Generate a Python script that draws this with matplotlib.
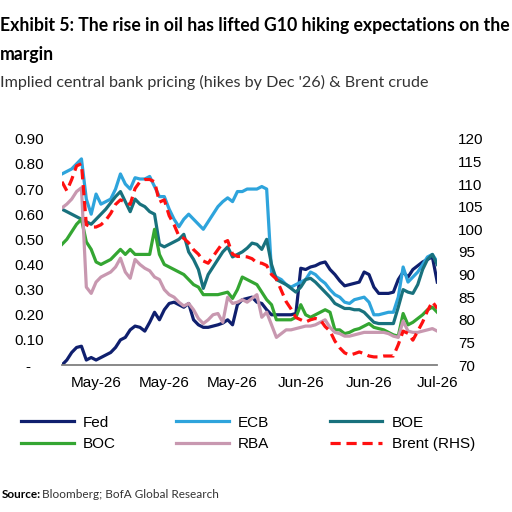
import pandas as pd
import matplotlib.pyplot as plt
import matplotlib.dates as mdates
from matplotlib.ticker import FuncFormatter

# daily dates, 24 Apr to 10 Jul
dates = pd.date_range("2026-04-24", "2026-07-10", freq="D")

fed = [0.0, 0.02, 0.05, 0.07, 0.075, 0.02, 0.03, 0.02, 0.03, 0.04,
       0.05, 0.07, 0.10, 0.11, 0.14, 0.155, 0.15, 0.135, 0.17, 0.21,
       0.18, 0.22, 0.245, 0.25, 0.24, 0.23, 0.245, 0.18, 0.16, 0.15,
       0.15, 0.155, 0.16, 0.167, 0.18, 0.16, 0.24, 0.26, 0.265, 0.27,
       0.25, 0.245, 0.22, 0.20, 0.20, 0.20, 0.20, 0.20, 0.205, 0.385,
       0.38, 0.39, 0.395, 0.405, 0.41, 0.38, 0.36, 0.335, 0.315, 0.32,
       0.325, 0.33, 0.37, 0.36, 0.31, 0.285, 0.285, 0.285, 0.29, 0.34,
       0.37, 0.35, 0.38, 0.395, 0.41, 0.42, 0.43, 0.33]

ecb = [0.76, 0.77, 0.78, 0.80, 0.82, 0.66, 0.60, 0.68, 0.64, 0.65,
       0.66, 0.70, 0.76, 0.72, 0.70, 0.745, 0.74, 0.74, 0.75, 0.71,
       0.67, 0.67, 0.62, 0.58, 0.55, 0.58, 0.60, 0.58, 0.56, 0.54,
       0.57, 0.60, 0.63, 0.65, 0.665, 0.65, 0.69, 0.69, 0.70, 0.70,
       0.70, 0.71, 0.70, 0.37, 0.35, 0.34, 0.32, 0.31, 0.32, 0.33,
       0.34, 0.37, 0.36, 0.34, 0.325, 0.30, 0.28, 0.27, 0.25, 0.245,
       0.26, 0.265, 0.27, 0.25, 0.20, 0.20, 0.205, 0.21, 0.21, 0.27,
       0.39, 0.33, 0.35, 0.37, 0.40, 0.43, 0.44, 0.41]

boe = [0.62, 0.61, 0.60, 0.59, 0.58, 0.57, 0.56, 0.58, 0.60, 0.62,
       0.645, 0.67, 0.69, 0.65, 0.61, 0.66, 0.64, 0.63, 0.61, 0.60,
       0.48, 0.47, 0.48, 0.49, 0.50, 0.52, 0.45, 0.42, 0.38, 0.305,
       0.36, 0.39, 0.42, 0.45, 0.47, 0.43, 0.44, 0.45, 0.465, 0.485,
       0.48, 0.46, 0.50, 0.40, 0.34, 0.33, 0.32, 0.305, 0.29, 0.31,
       0.34, 0.345, 0.33, 0.31, 0.29, 0.27, 0.245, 0.235, 0.225, 0.225,
       0.22, 0.22, 0.21, 0.19, 0.17, 0.165, 0.165, 0.165, 0.165, 0.23,
       0.30, 0.29, 0.285, 0.32, 0.38, 0.42, 0.44, 0.40]

boc = [0.48, 0.50, 0.53, 0.56, 0.58, 0.49, 0.46, 0.41, 0.40, 0.41,
       0.42, 0.44, 0.46, 0.44, 0.46, 0.44, 0.44, 0.44, 0.44, 0.54,
       0.44, 0.40, 0.39, 0.38, 0.37, 0.36, 0.34, 0.32, 0.31, 0.28,
       0.28, 0.28, 0.28, 0.285, 0.29, 0.265, 0.30, 0.35, 0.34, 0.33,
       0.32, 0.29, 0.26, 0.24, 0.18, 0.18, 0.18, 0.18, 0.19, 0.24,
       0.20, 0.19, 0.20, 0.21, 0.22, 0.21, 0.14, 0.14, 0.125, 0.13,
       0.14, 0.145, 0.155, 0.165, 0.15, 0.145, 0.14, 0.13, 0.12, 0.115,
       0.205, 0.16, 0.17, 0.185, 0.20, 0.22, 0.23, 0.21]

rba = [0.625, 0.64, 0.66, 0.69, 0.705, 0.31, 0.285, 0.33, 0.35, 0.36,
       0.37, 0.39, 0.425, 0.37, 0.345, 0.42, 0.40, 0.385, 0.375, 0.35,
       0.34, 0.30, 0.28, 0.27, 0.25, 0.235, 0.245, 0.22, 0.185, 0.165,
       0.18, 0.20, 0.205, 0.17, 0.27, 0.245, 0.25, 0.26, 0.25, 0.265,
       0.28, 0.19, 0.21, 0.16, 0.11, 0.125, 0.14, 0.14, 0.145, 0.15,
       0.155, 0.155, 0.16, 0.17, 0.18, 0.15, 0.13, 0.125, 0.115, 0.115,
       0.12, 0.125, 0.13, 0.13, 0.13, 0.13, 0.13, 0.125, 0.115, 0.11,
       0.175, 0.135, 0.13, 0.13, 0.135, 0.14, 0.145, 0.135]

brent = [110.5, 108.5, 111, 114, 114.5, 101, 100.5, 100.5, 101, 102,
         103.5, 105.5, 106.5, 106, 105.5, 109, 110.5, 111, 111, 110.5,
         106, 106.5, 103, 101, 98.5, 98, 97, 95.5, 94.5, 93,
         92.5, 94, 95.5, 97, 97.5, 94.5, 94, 94, 93.9, 93.5,
         92.6, 92.5, 92, 90, 89, 86.5, 84, 82.4, 80.5, 80,
         79.5, 80, 80.3, 80, 78.5, 77.5, 75.3, 73.8, 72.7, 72.2,
         72.5, 72.9, 72.5, 72, 71.8, 71.8, 72, 72, 72, 74.5,
         77.5, 77, 75.5, 77.5, 79.5, 82, 84, 82.5]

tick_dates = pd.date_range("2026-05-01", periods=6, freq="14D")

fig = plt.figure(figsize=(5.12, 5.12), dpi=100)
ax = fig.add_axes([0.121, 0.287, 0.733, 0.442])
ax2 = ax.twinx()

lw = 2.3
h_fed, = ax.plot(dates, fed, color="#0f1f6e", lw=lw, label="Fed")
h_ecb, = ax.plot(dates, ecb, color="#2ea4dc", lw=lw, label="ECB")
h_boe, = ax.plot(dates, boe, color="#18717d", lw=lw, label="BOE")
h_boc, = ax.plot(dates, boc, color="#34a632", lw=lw, label="BOC")
h_rba, = ax.plot(dates, rba, color="#c898b0", lw=lw, label="RBA")
h_brent, = ax2.plot(dates, brent, color="#ff1010", lw=lw, ls=(0, (3.2, 1.8)),
                    label="Brent (RHS)")

ax.set_ylim(0, 0.9)
ax.set_yticks([i / 10 for i in range(10)])
# accounting style: zero shown as a dash
ax.yaxis.set_major_formatter(FuncFormatter(lambda v, p: "-   " if abs(v) < 1e-9 else f"{v:.2f}"))
ax2.set_ylim(70, 120)
ax2.set_yticks(range(70, 121, 5))
ax.set_xlim(dates[0], dates[-1])
ax.set_xticks(tick_dates)
ax.xaxis.set_major_formatter(mdates.DateFormatter("%b-%y"))

for a in (ax, ax2):
    for s in a.spines.values():
        s.set_visible(False)
    a.tick_params(length=0, labelsize=11)
    for lab in a.get_xticklabels() + a.get_yticklabels():
        lab.set_family("Liberation Sans")
ax.spines["bottom"].set_visible(True)
ax.spines["bottom"].set_color("#7f7f7f")
ax.spines["bottom"].set_linewidth(1.3)
ax.tick_params(axis="y", pad=13)
ax.tick_params(axis="x", pad=8)
ax2.tick_params(axis="y", pad=15)

handles = [h_fed, h_boc, h_ecb, h_rba, h_boe, h_brent]
fig.legend(handles, [h.get_label() for h in handles], ncol=3, frameon=False,
           loc="upper left", bbox_to_anchor=(0.026, 0.203), borderpad=0,
           handlelength=3.45, handletextpad=0.6, columnspacing=3.95,
           labelspacing=0.5, prop={"family": "Liberation Sans", "size": 11})

fig.text(0.0, 0.951, "Exhibit 5: The rise in oil has lifted G10 hiking expectations on the",
         fontsize=12.7, weight="bold", family="Lato", va="center")
fig.text(0.0, 0.893, "margin", fontsize=12.7, weight="bold", family="Lato", va="center")
fig.text(0.0, 0.838, "Implied central bank pricing (hikes by Dec '26) & Brent crude",
         fontsize=11.6, family="Lato", color="#333333", va="center")
fig.text(0.004, 0.035, "Source:", fontsize=8.5, weight="bold", family="Lato", va="center")
fig.text(0.083, 0.035, "Bloomberg; BofA Global Research", fontsize=8.5, family="Lato",
         color="#333333", va="center")

fig.savefig("out.png", dpi=100)
